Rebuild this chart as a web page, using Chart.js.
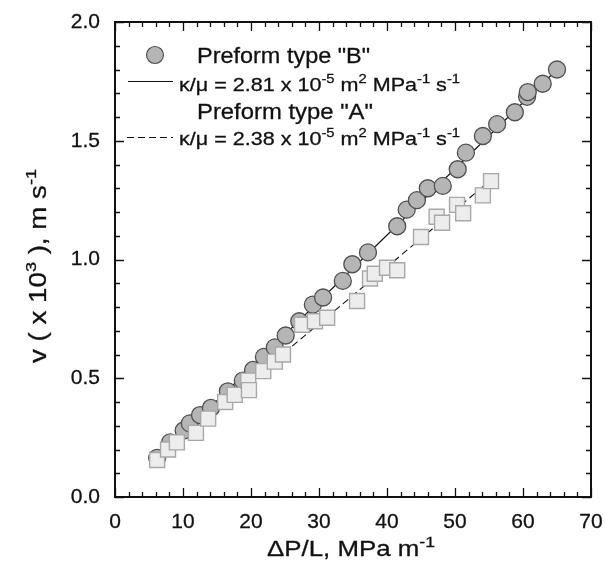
<!DOCTYPE html>
<html>
<head>
<meta charset="utf-8">
<script src="https://cdn.jsdelivr.net/npm/chart.js@4/dist/chart.umd.min.js"></script>
<style>
  html, body { margin: 0; padding: 0; background: #fff; }
  #wrap { width: 606px; height: 575px; position: relative; }
</style>
</head>
<body>
<div id="wrap"><canvas id="c" width="606" height="575"></canvas></div>
<script>
// ── Data ──
var typeBx = [6.2, 8.1, 10.1, 11.0, 12.5, 14.1, 16.6, 18.8, 20.3, 21.9, 23.5, 25.1, 27.1, 29.1, 30.6, 33.5,
              34.9, 37.2, 41.5, 42.9, 44.4, 46.0, 48.2, 50.4, 51.6, 54.1, 56.2, 58.8, 60.6, 60.7, 62.9, 65.0];
var typeBy = [0.165, 0.23, 0.28, 0.31, 0.345, 0.375, 0.445, 0.49, 0.535, 0.59, 0.63, 0.68, 0.74, 0.81, 0.84, 0.91,
              0.98, 1.03, 1.14, 1.21, 1.25, 1.30, 1.31, 1.38, 1.45, 1.52, 1.57, 1.62, 1.685, 1.705, 1.74, 1.80];
var typeAx = [6.2, 7.8, 9.1, 11.9, 13.7, 16.2, 17.6, 19.6, 19.7, 21.8, 23.5, 24.7, 27.5, 29.4, 31.2, 35.6,
              37.5, 38.2, 40.0, 41.5, 45.0, 47.3, 48.1, 50.3, 51.2, 54.1, 55.3];
var typeAy = [0.156, 0.20, 0.23, 0.27, 0.33, 0.40, 0.43, 0.49, 0.45, 0.53, 0.57, 0.60, 0.725, 0.74, 0.755, 0.825,
              0.92, 0.94, 0.965, 0.955, 1.095, 1.18, 1.155, 1.23, 1.195, 1.27, 1.33];
// fitted lines (end points)
var fitBx = [6.2, 65.0], fitBy = [0.16, 1.80];
var fitAx = [6.2, 55.3], fitAy = [0.16, 1.335];

var xTicks = [0, 10, 20, 30, 40, 50, 60, 70];
var yTicks = [0.0, 0.5, 1.0, 1.5, 2.0];

function pts(xs, ys) { return xs.map(function(x, i) { return { x: x, y: ys[i] }; }); }

var FONT = "'Liberation Sans', Arial, Helvetica, sans-serif";
var SUP = 0.66;

// text runs: ["text", isSup]
function richWidth(ctx, runs, size) {
  var w = 0;
  runs.forEach(function(r) {
    ctx.font = (r[1] ? Math.round(size * SUP) : size) + "px " + FONT;
    w += ctx.measureText(r[0]).width;
  });
  return w;
}
// draws runs starting at (x,y), stretched along the baseline to fill "width"
function drawRich(ctx, x, y, runs, size, width) {
  var sx = width ? width / richWidth(ctx, runs, size) : 1;
  ctx.save();
  ctx.translate(x, y);
  ctx.scale(sx, 1);
  ctx.lineWidth = 0.3;
  ctx.strokeStyle = ctx.fillStyle;
  var cx = 0;
  runs.forEach(function(r) {
    var s = r[1] ? Math.round(size * SUP) : size;
    var ty = r[1] ? -size * 0.42 : 0;
    ctx.font = s + "px " + FONT;
    ctx.fillText(r[0], cx, ty);
    ctx.strokeText(r[0], cx, ty);
    cx += ctx.measureText(r[0]).width;
  });
  ctx.restore();
}

var decor = {
  id: "decor",
  afterDatasetsDraw: function(chart) {
    var ctx = chart.ctx, a = chart.chartArea;
    var xs = chart.scales.x, ys = chart.scales.y;
    ctx.save();
    ctx.strokeStyle = "#111";
    ctx.fillStyle = "#111";
    // frame
    ctx.lineWidth = 2;
    ctx.strokeRect(a.left, a.top, a.right - a.left, a.bottom - a.top);
    // inward ticks on all sides
    ctx.lineWidth = 1.3;
    ctx.beginPath();
    for (var v = 0; v <= 70.001; v += 2) {
      var px = Math.round(xs.getPixelForValue(v)) + 0.5;
      var len = (Math.round(v) % 10 === 0) ? 9 : 5;
      ctx.moveTo(px, a.bottom); ctx.lineTo(px, a.bottom - len);
      ctx.moveTo(px, a.top); ctx.lineTo(px, a.top + len);
    }
    for (var k = 0; k <= 20; k++) {
      var py = Math.round(ys.getPixelForValue(k / 10)) + 0.5;
      var l2 = (k % 5 === 0) ? 9 : 5;
      ctx.moveTo(a.left, py); ctx.lineTo(a.left + l2, py);
      ctx.moveTo(a.right, py); ctx.lineTo(a.right - l2, py);
    }
    ctx.stroke();

    // legend
    ctx.textBaseline = "alphabetic";
    ctx.textAlign = "left";
    ctx.beginPath();
    ctx.arc(155, 55, 8.5, 0, Math.PI * 2);
    ctx.fillStyle = "#b5b5b5"; ctx.fill();
    ctx.lineWidth = 1.2; ctx.strokeStyle = "#505050"; ctx.stroke();
    ctx.fillStyle = "#111";
    drawRich(ctx, 197, 63, [['Preform type "B"']], 22, 173);
    ctx.lineWidth = 1.1; ctx.strokeStyle = "#111";
    ctx.beginPath(); ctx.moveTo(128, 81.5); ctx.lineTo(173, 81.5); ctx.stroke();
    drawRich(ctx, 179, 91, [["\u03ba/\u03bc = 2.81 x 10"], ["-5", 1], [" m"], ["2", 1], [" MPa"], ["-1", 1], [" s"], ["-1", 1]], 19, 281);
    drawRich(ctx, 197, 119, [['Preform type "A"']], 22, 176);
    ctx.lineWidth = 1.1; ctx.strokeStyle = "#111";
    ctx.setLineDash([7, 4]);
    ctx.beginPath(); ctx.moveTo(127, 137.5); ctx.lineTo(173, 137.5); ctx.stroke();
    ctx.setLineDash([]);
    drawRich(ctx, 179, 145, [["\u03ba/\u03bc = 2.38 x 10"], ["-5", 1], [" m"], ["2", 1], [" MPa"], ["-1", 1], [" s"], ["-1", 1]], 19, 281);

    // axis titles
    drawRich(ctx, 267, 556, [["\u0394P/L, MPa m"], ["-1", 1]], 22, 168);
    ctx.translate(46, 363);
    ctx.rotate(-Math.PI / 2);
    drawRich(ctx, 0, 0, [["v ( x 10"], ["3", 1], [" ), m s"], ["-1", 1]], 23, 194);
    ctx.restore();
  }
};

new Chart(document.getElementById("c").getContext("2d"), {
  type: "scatter",
  data: {
    datasets: [
      { label: "Preform type A", data: pts(typeAx, typeAy), order: 0, pointStyle: "rect", pointRadius: 10.6,
        backgroundColor: "#ededed", borderColor: "#a8a8a8", borderWidth: 1.4 },
      { label: "Preform type B", data: pts(typeBx, typeBy), order: 1, pointStyle: "circle", pointRadius: 8.5,
        backgroundColor: "#b5b5b5", borderColor: "#505050", borderWidth: 1.3 },
      { label: "fit A", data: pts(fitAx, fitAy), order: 2, showLine: true, pointRadius: 0,
        borderColor: "#111", borderWidth: 1.1, borderDash: [7, 4] },
      { label: "fit B", data: pts(fitBx, fitBy), order: 3, showLine: true, pointRadius: 0,
        borderColor: "#111", borderWidth: 1.1 }
    ]
  },
  options: {
    responsive: false,
    animation: false,
    layout: { padding: { top: 22, right: 15, left: 0, bottom: 0 } },
    plugins: { legend: { display: false }, tooltip: { enabled: false } },
    scales: {
      x: {
        type: "linear", min: 0, max: 70,
        afterFit: function(s) { s.height = 78; s.paddingLeft = 0; s.paddingRight = 0; },
        afterBuildTicks: function(s) { s.ticks = xTicks.map(function(v) { return { value: v }; }); },
        grid: { display: false, drawTicks: false },
        border: { display: false },
        ticks: { padding: 13, color: "#111", font: { family: FONT, size: 21 }, maxRotation: 0,
                 textStrokeColor: "#111", textStrokeWidth: 0.3,
                 callback: function(v) { return String(v); } }
      },
      y: {
        type: "linear", min: 0, max: 2,
        afterFit: function(s) { s.width = 115; s.paddingTop = 0; s.paddingBottom = 0; },
        afterBuildTicks: function(s) { s.ticks = yTicks.map(function(v) { return { value: v }; }); },
        grid: { display: false, drawTicks: false },
        border: { display: false },
        ticks: { padding: 15, color: "#111", font: { family: FONT, size: 21 },
                 textStrokeColor: "#111", textStrokeWidth: 0.3,
                 callback: function(v) { return v.toFixed(1); } }
      }
    }
  },
  plugins: [decor]
});
</script>
</body>
</html>
